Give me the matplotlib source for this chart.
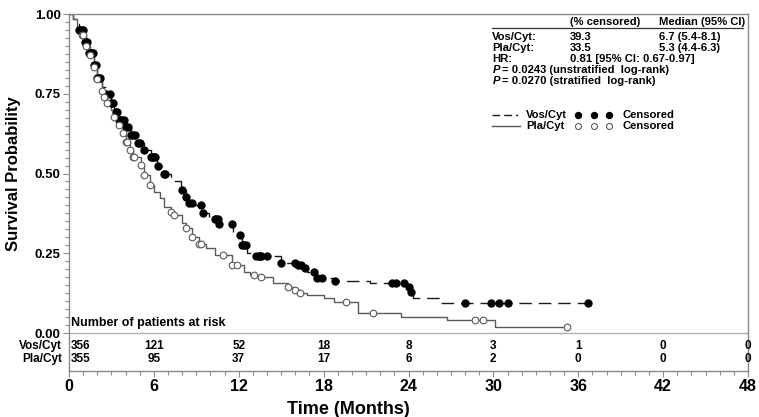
import numpy as np
import matplotlib
matplotlib.use("Agg")
import matplotlib.pyplot as plt
from matplotlib.ticker import FixedLocator

plt.rcParams['font.family'] = ['Liberation Sans', 'DejaVu Sans']
plt.rcParams['font.weight'] = 'bold'

# --- DATA ---
vos_t = [0, 0.15, 0.3, 0.5, 0.7, 1.06, 1.4, 1.8, 2.0, 2.3, 2.6, 3.0, 3.2, 3.5, 4.0, 4.4, 4.8,
         5.3, 5.8, 6.2, 6.6, 7.2, 7.9, 8.3, 8.5, 8.9, 9.4, 9.9, 10.6, 11.6, 12.2, 12.6, 13.2,
         15.0, 16.1, 16.5, 16.8, 17.4, 18.7, 21.3, 23.8, 24.1, 24.3, 26.2, 36.7]
vos_s = [1.0, 1.0, 0.985, 0.97, 0.95, 0.912, 0.878, 0.84, 0.80, 0.77, 0.75, 0.72, 0.693, 0.668,
         0.646, 0.62, 0.596, 0.574, 0.552, 0.523, 0.50, 0.475, 0.448, 0.426, 0.408, 0.40, 0.376,
         0.357, 0.342, 0.307, 0.276, 0.251, 0.241, 0.219, 0.213, 0.204, 0.19, 0.172, 0.163,
         0.157, 0.144, 0.128, 0.11, 0.094, 0.094]

pla_t = [0, 0.15, 0.3, 0.6, 0.9, 1.2, 1.5, 1.8, 2.0, 2.3, 2.5, 2.7, 3.0, 3.2, 3.5, 3.8, 4.0,
         4.3, 4.5, 5.1, 5.3, 5.7, 6.0, 6.4, 6.7, 7.2, 7.4, 8.0, 8.3, 8.7, 9.2, 9.7, 10.3, 11.5,
         12.4, 12.8, 13.5, 14.4, 15.5, 16.0, 16.3, 16.8, 18.0, 18.7, 20.4, 23.5, 26.7, 30.1, 35.2]
pla_s = [1.0, 1.0, 0.985, 0.96, 0.934, 0.90, 0.87, 0.835, 0.795, 0.76, 0.74, 0.72, 0.70, 0.677,
         0.652, 0.627, 0.60, 0.574, 0.552, 0.527, 0.495, 0.464, 0.442, 0.423, 0.395, 0.379, 0.37,
         0.345, 0.329, 0.301, 0.28, 0.266, 0.245, 0.213, 0.19, 0.182, 0.175, 0.157, 0.144, 0.135,
         0.125, 0.119, 0.11, 0.097, 0.063, 0.05, 0.041, 0.019, 0.019]

vos_cens = [0.7, 0.8, 0.9, 1.0, 1.1, 1.2, 1.3, 1.4, 1.5, 1.6, 1.7, 1.8, 1.9, 2.0, 2.1, 2.2, 2.6,
            2.9, 3.0, 3.1, 3.3, 3.4, 3.5, 3.6, 3.7, 3.9, 4.0, 4.2, 4.4, 4.5, 4.7, 4.9, 5.0, 5.3,
            5.8, 5.9, 6.0, 6.1, 6.3, 6.7, 6.8, 8.0, 8.3, 8.5, 8.7, 9.3, 9.5, 10.3, 10.4, 10.5,
            10.6, 11.5, 12.1, 12.2, 12.4, 12.5, 13.2, 13.4, 13.5, 13.6, 14.0, 15.0, 16.0, 16.2,
            16.4, 16.7, 17.3, 17.5, 17.9, 18.8, 22.8, 23.1, 23.7, 24.0, 24.2, 28.0, 29.8, 30.4,
            31.0, 36.7]
pla_cens = [0.9, 1.0, 1.2, 1.5, 1.8, 2.0, 2.3, 2.5, 2.7, 3.2, 3.5, 3.8, 4.0, 4.1, 4.3, 4.5,
            4.6, 5.1, 5.3, 5.7, 7.2, 7.4, 8.3, 8.7, 9.2, 9.3, 10.9, 11.5, 11.9, 13.1, 13.6,
            15.5, 16.0, 16.3, 19.6, 21.5, 28.7, 29.3, 35.2]

risk_times = [0, 6, 12, 18, 24, 30, 36, 42, 48]
risk_vos = [356, 121, 52, 18, 8, 3, 1, 0, 0]
risk_pla = [355, 95, 37, 17, 6, 2, 0, 0, 0]

stats_rows = [("Vos/Cyt:", "39.3", "6.7 (5.4-8.1)"),
              ("Pla/Cyt:", "33.5", "5.3 (4.4-6.3)"),
              ("HR:", "0.81 [95% CI: 0.67-0.97]", "")]
p_rows = ["= 0.0243 (unstratified  log-rank)", "= 0.0270 (stratified  log-rank)"]


def step_at(t, s, tc):
    t = np.asarray(t)
    s = np.asarray(s)
    idx = np.searchsorted(t, tc, side='right') - 1
    return s[idx]


fig = plt.figure(figsize=(7.59, 4.17), dpi=100)
ax = fig.add_axes([69 / 759, 1 - 371 / 417, 679 / 759, 357 / 417])

grey = '#8a8a8a'
vos_col = '#1a1a1a'
pla_col = '#5a5a5a'

ax.step(vos_t, vos_s, where='post', color=vos_col, lw=1.0, dashes=(9, 5))
ax.step(pla_t, pla_s, where='post', color=pla_col, lw=1.0)

ax.plot(vos_cens, step_at(vos_t, vos_s, vos_cens), 'o', color='black', ms=5, zorder=3)
ax.plot(pla_cens, step_at(pla_t, pla_s, pla_cens), 'o', mfc='white', mec=pla_col,
        mew=0.8, ms=4.8, zorder=3)

ax.set_xlim(0, 48)
ax.set_ylim(-0.119, 1.0)
ax.axhline(0, color='#b0b0b0', lw=1.0)

ax.set_xticks(risk_times)
ax.set_xticklabels([str(t) for t in risk_times], fontsize=11.5, fontweight='bold')
ax.xaxis.set_minor_locator(FixedLocator(np.arange(0, 49, 1)))
ax.set_yticks([0, 0.25, 0.5, 0.75, 1.0])
ax.set_yticklabels(["0.00", "0.25", "0.50", "0.75", "1.00"], fontsize=9.5, fontweight='bold')
ax.yaxis.set_minor_locator(FixedLocator(np.arange(0, 1.0001, 0.025)))
ax.tick_params(which='both', direction='out', color=grey, width=0.8)
ax.tick_params(which='major', length=4, pad=2)
ax.tick_params(which='minor', length=3)
for sp in ax.spines.values():
    sp.set_color(grey)
    sp.set_linewidth(1.0)

ax.set_xlabel("Time (Months)", fontsize=13, fontweight='bold')
ax.xaxis.set_label_coords(0.412, -0.083)
ax.set_ylabel("Survival Probability", fontsize=12, fontweight='bold')
ax.yaxis.set_label_coords(-0.071, 0.553)

# risk table
ax.text(0.15, 0.031, "Number of patients at risk", fontsize=9, fontweight='bold',
        va='center', ha='left')
for i, (t, a, b) in enumerate(zip(risk_times, risk_vos, risk_pla)):
    ha = 'left' if i == 0 else 'center'
    x = 0.1 if i == 0 else t
    ax.text(x, -0.042, str(a), fontsize=8.5, fontweight='bold', ha=ha, va='center')
    ax.text(x, -0.082, str(b), fontsize=8.5, fontweight='bold', ha=ha, va='center')
ax.text(-0.5, -0.042, "Vos/Cyt", fontsize=8.5, fontweight='bold', ha='right', va='center')
ax.text(-0.5, -0.082, "Pla/Cyt", fontsize=8.5, fontweight='bold', ha='right', va='center')

# stats block
fs = 8.1
c1, c2, c3 = 29.93, 35.4, 41.7
ax.text(c2, 0.975, "(% censored)", fontsize=fs, fontweight='bold', va='center')
ax.text(c3, 0.975, "Median (95% CI)", fontsize=fs, fontweight='bold', va='center')
ax.plot([c1, 47.66], [0.956, 0.956], color='#333333', lw=0.9)
for (lab, cen, med), y in zip(stats_rows, [0.928, 0.893, 0.860]):
    ax.text(c1, y, lab, fontsize=fs, fontweight='bold', va='center')
    ax.text(c2, y, cen, fontsize=fs, fontweight='bold', va='center')
    if med:
        ax.text(c3, y, med, fontsize=fs, fontweight='bold', va='center')
for txt, y in zip(p_rows, [0.826, 0.79]):
    ax.text(c1, y, "P", fontsize=fs, fontweight='bold', style='italic', va='center')
    ax.text(30.6, y, txt, fontsize=fs, fontweight='bold', va='center')

# legend
for y, lab, col, dash, filled in [(0.683, "Vos/Cyt", vos_col, (5.5, 3, 5.5, 3, 1.5, 3), True),
                                  (0.649, "Pla/Cyt", pla_col, None, False)]:
    ln, = ax.plot([29.93, 31.9], [y, y], color=col, lw=1.0)
    if dash:
        ln.set_dashes(dash)
    ax.text(32.3, y, lab, fontsize=fs, fontweight='bold', va='center')
    xs = [35.95, 37.1, 38.15]
    if filled:
        ax.plot(xs, [y] * 3, 'o', color='black', ms=4.3)
    else:
        ax.plot(xs, [y] * 3, 'o', mfc='white', mec=pla_col, mew=0.8, ms=4.3)
    ax.text(39.15, y, "Censored", fontsize=fs, fontweight='bold', va='center')

fig.savefig("out.png", dpi=100)
